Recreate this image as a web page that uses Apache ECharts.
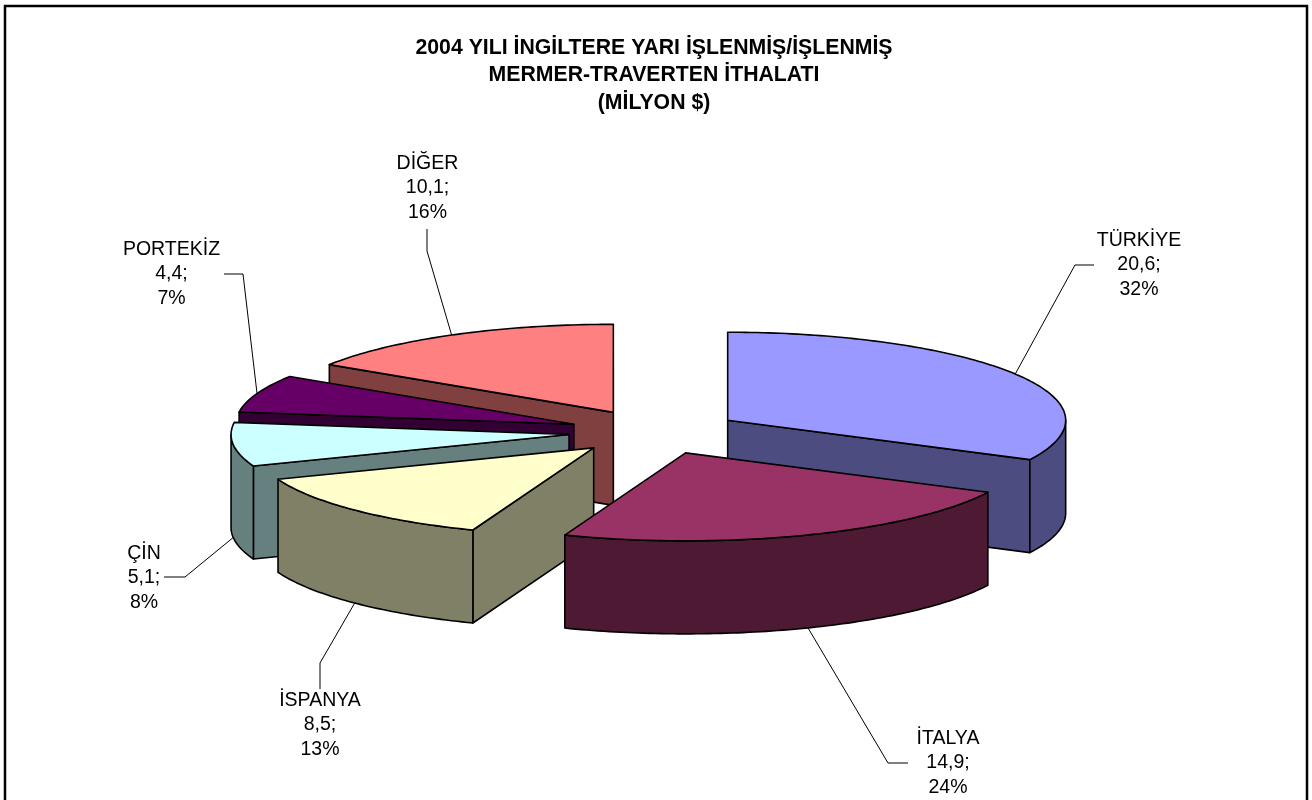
<!DOCTYPE html>
<html>
<head>
<meta charset="utf-8">
<style>html,body{margin:0;padding:0;background:#fff}#c{width:1312px;height:800px}</style>
<script src="https://cdn.jsdelivr.net/npm/echarts@6/dist/echarts.min.js"></script>
</head>
<body>
<div id="c"></div>
<script>
const titleLines = ['2004 YILI İNGİLTERE YARI İŞLENMİŞ/İŞLENMİŞ', 'MERMER-TRAVERTEN İTHALATI', '(MİLYON $)'];
const categories = ['TÜRKİYE', 'İTALYA', 'İSPANYA', 'ÇİN', 'PORTEKİZ', 'DİĞER'];
const values = [20.6, 14.9, 8.5, 5.1, 4.4, 10.1];
const percents = [32, 24, 13, 8, 7, 16];
const topColors = ['#9999FF', '#993366', '#FFFFCC', '#CCFFFF', '#660066', '#FF8080'];
const wallColors = ['#4C4C80', '#4D1933', '#808066', '#668080', '#330033', '#804040'];
const drawOrder = [5, 0, 4, 3, 2, 1];

const pie = { cx: 654.5, cy: 432, a: 338, b: 88, explode: 86, depth: 93 };
// Label layout: text centre, elbow of the leader, leader end
const labelLayout = [
  { x: 1139, y: 265, elbow: [1075, 265], end: [1094, 265], base: false },
  { x: 948, y: 763, elbow: [888, 763], end: [908, 763], base: true },
  { x: 320, y: 725, elbow: [320, 663], end: [320, 689], base: true },
  { x: 144, y: 578, elbow: [185, 577], end: [164, 577], base: true },
  { x: 171.5, y: 274, elbow: [243, 274], end: [224, 274], base: false },
  { x: 427.5, y: 188, elbow: [427, 251], end: [427, 229], base: false }
];

const total = values.reduce((s, v) => s + v, 0);
const RAD = Math.PI / 180;
const starts = [];
values.reduce((acc, v, i) => { starts[i] = acc; return acc + v / total * 360; }, 0);
const endOf = i => starts[i] + values[i] / total * 360;

function rimPoint(apex, deg) {
  return [apex[0] + pie.a * Math.sin(deg * RAD), apex[1] - pie.b * Math.cos(deg * RAD)];
}
function apexOf(i) {
  const mid = (starts[i] + endOf(i)) / 2;
  return [pie.cx + pie.explode * Math.sin(mid * RAD), pie.cy - pie.explode * pie.b / pie.a * Math.cos(mid * RAD)];
}
function arcPoints(apex, from, to) {
  const n = Math.max(2, Math.ceil(Math.abs(to - from)));
  const pts = [];
  for (let k = 0; k <= n; k++) pts.push(rimPoint(apex, from + (to - from) * k / n));
  return pts;
}
const sink = p => [p[0], p[1] + pie.depth];

function poly(points, fill, z2) {
  return {
    type: 'polygon', z2, silent: true,
    shape: { points },
    style: { fill, stroke: '#000', lineWidth: 1.6, lineJoin: 'round' }
  };
}

function renderSlice(params, api) {
  const i = api.value(0);
  const order = params.dataIndex;
  const s = starts[i], e = endOf(i);
  const apex = apexOf(i);
  const children = [];
  let z = order * 10 + 1;
  const sinOf = d => Math.sin(d * RAD);
  if (sinOf(s) < -1e-6) {
    const r = rimPoint(apex, s);
    children.push(poly([apex, r, sink(r), sink(apex)], wallColors[i], z++));
  }
  if (sinOf(e) > 1e-6) {
    const r = rimPoint(apex, e);
    children.push(poly([apex, r, sink(r), sink(apex)], wallColors[i], z++));
  }
  const from = Math.max(s, 90), to = Math.min(e, 270);
  if (to > from) {
    const rim = arcPoints(apex, from, to);
    children.push(poly(rim.concat(rim.slice().reverse().map(sink)), wallColors[i], z++));
  }
  children.push(poly([apex].concat(arcPoints(apex, s, e)), topColors[i], z++));

  const lay = labelLayout[i];
  let anchor = rimPoint(apex, (s + e) / 2);
  if (lay.base) anchor = sink(anchor);
  children.push({
    type: 'polyline', z2: 200, silent: true,
    shape: { points: [anchor, lay.elbow, lay.end] },
    style: { fill: null, stroke: '#000', lineWidth: 1 }
  });
  children.push({
    type: 'text', z2: 201, silent: true,
    x: lay.x, y: lay.y,
    style: {
      text: categories[i] + '\n' + String(values[i]).replace('.', ',') + ';\n' + percents[i] + '%',
      fontFamily: '"Liberation Sans", Arial, sans-serif', fontSize: 19.5, lineHeight: 24.4,
      fill: '#000', align: 'center', verticalAlign: 'middle'
    }
  });
  return { type: 'group', children };
}

const chart = echarts.init(document.getElementById('c'), null, { renderer: 'canvas' });
chart.setOption({
  animation: false,
  backgroundColor: '#fff',
  title: {
    text: titleLines.join('\n'),
    left: 649, top: 29, textAlign: 'center',
    textStyle: { fontFamily: '"Liberation Sans", Arial, sans-serif', fontSize: 21.25, fontWeight: 'bold', color: '#000', lineHeight: 27.5 }
  },
  graphic: [{
    type: 'rect', silent: true, z: -1,
    shape: { x: 5, y: 6, width: 1302, height: 800 },
    style: { fill: '#fff', stroke: '#000', lineWidth: 2.5 }
  }],
  series: [{
    type: 'custom',
    coordinateSystem: 'none',
    renderItem: renderSlice,
    data: drawOrder.map(i => [i, values[i]]),
    encode: { value: 1 },
    silent: true
  }]
});
</script>
</body>
</html>
